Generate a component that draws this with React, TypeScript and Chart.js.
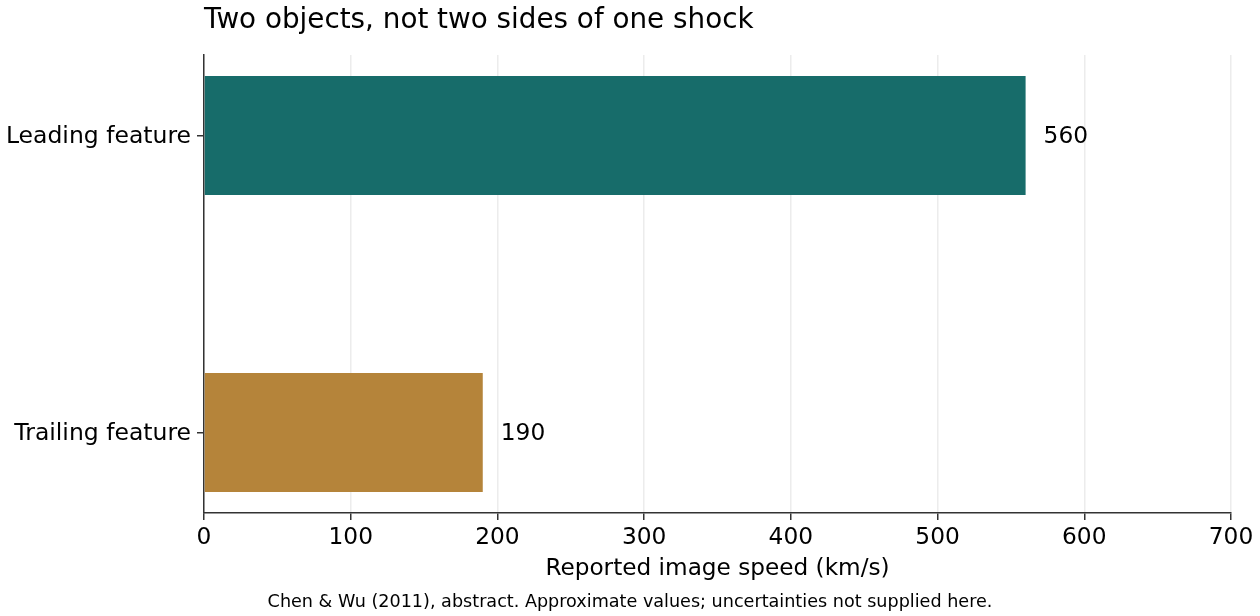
import React, { useEffect, useRef } from "react";
import { Chart, registerables } from "chart.js";

Chart.register(...registerables);

const categories: string[] = ["Leading feature", "Trailing feature"];
const speeds: number[] = [560, 190];
const barColors: string[] = ["#176c6a", "#b5843a"];
const xTicks: number[] = [0, 100, 200, 300, 400, 500, 600, 700];
const titleText = "Two objects, not two sides of one shock";
const xAxisTitle = "Reported image speed (km/s)";
const captionText =
  "Chen & Wu (2011), abstract. Approximate values; uncertainties not supplied here.";

const FONT = "'DejaVu Sans', 'Noto Sans', sans-serif";
const AXIS = "#333333";

export default function App() {
  const ref = useRef<HTMLCanvasElement | null>(null);

  useEffect(() => {
    if (!ref.current) return;

    const textPlugin = {
      id: "extraText",
      afterDatasetsDraw(chart: any) {
        const ctx = chart.ctx;
        const meta = chart.getDatasetMeta(0);
        ctx.save();
        ctx.fillStyle = "#000";
        ctx.font = `23.3px ${FONT}`;
        ctx.textAlign = "left";
        ctx.textBaseline = "middle";
        meta.data.forEach((el: any, i: number) => {
          ctx.fillText(String(speeds[i]), el.x + 18, el.y + 1.5);
        });
        ctx.restore();
      },
      afterDraw(chart: any) {
        const ctx = chart.ctx;
        const area = chart.chartArea;
        ctx.save();
        ctx.fillStyle = "#000";
        ctx.textBaseline = "alphabetic";
        ctx.font = `27.8px ${FONT}`;
        ctx.textAlign = "left";
        ctx.fillText(titleText, area.left, 28);
        ctx.font = `23.2px ${FONT}`;
        ctx.textAlign = "center";
        ctx.fillText(xAxisTitle, (area.left + area.right) / 2, 575);
        ctx.font = `17.6px ${FONT}`;
        ctx.fillText(captionText, chart.width / 2, 607);
        ctx.restore();
      },
    };

    const chart = new Chart(ref.current, {
      type: "bar",
      data: {
        datasets: [
          {
            data: speeds.map((v, i) => ({ x: v, y: i })),
            backgroundColor: barColors,
            borderWidth: 0,
            categoryPercentage: 1,
            barPercentage: 0.4,
          } as any,
        ],
      },
      options: {
        indexAxis: "y",
        animation: false,
        responsive: false,
        devicePixelRatio: 1,
        layout: { padding: { top: 55, right: 29, left: 0, bottom: 0 } },
        plugins: {
          legend: { display: false },
          tooltip: { enabled: false },
          title: { display: false },
        },
        scales: {
          x: {
            type: "linear",
            min: 0,
            max: 700,
            afterFit: (s: any) => {
              s.height = 103;
            },
            afterBuildTicks: (s: any) => {
              s.ticks = xTicks.map((v) => ({ value: v }));
            },
            ticks: {
              color: "#000",
              font: { family: FONT, size: 23.3 },
              padding: 4,
              maxRotation: 0,
              autoSkip: false,
            },
            grid: {
              color: "#ececec",
              lineWidth: 1.5,
              tickColor: AXIS,
              tickWidth: 1.5,
              tickLength: 7,
            },
            border: { display: true, color: AXIS, width: 1.5 },
          },
          y: {
            type: "linear",
            reverse: true,
            min: -0.271,
            max: 1.271,
            offset: false,
            afterFit: (s: any) => {
              s.width = 204;
            },
            afterBuildTicks: (s: any) => {
              s.ticks = categories.map((_, i) => ({ value: i }));
            },
            ticks: {
              color: "#000",
              font: { family: FONT, size: 23.5 },
              padding: 6,
              labelOffset: 1.5,
              autoSkip: false,
              callback: (v: any) => categories[Number(v)] ?? "",
            },
            grid: {
              offset: false,
              drawOnChartArea: false,
              color: AXIS,
              lineWidth: 1.5,
              tickColor: AXIS,
              tickWidth: 1.5,
              tickLength: 7,
            },
            border: { display: true, color: AXIS, width: 1.5 },
          },
        },
      } as any,
      plugins: [textPlugin],
    });

    return () => chart.destroy();
  }, []);

  return (
    <div style={{ position: "absolute", left: 0, top: 0, width: 1260, height: 616, background: "#fff" }}>
      <canvas ref={ref} width={1260} height={616} style={{ width: 1260, height: 616, display: "block" }} />
    </div>
  );
}
